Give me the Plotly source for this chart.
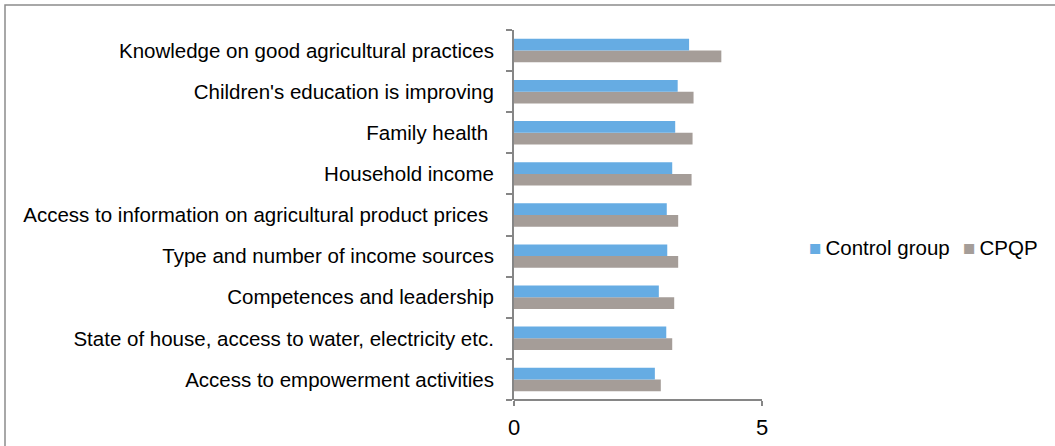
import plotly.graph_objects as go

categories = [
    "Knowledge on good agricultural practices",
    "Children's education is improving",
    "Family health\u00a0",
    "Household income",
    "Access to information on agricultural product prices\u00a0",
    "Type and number of income sources",
    "Competences and leadership",
    "State of house, access to water, electricity etc.",
    "Access to empowerment activities",
]
control_group = [3.53, 3.30, 3.25, 3.19, 3.08, 3.09, 2.92, 3.07, 2.84]
cpqp = [4.18, 3.62, 3.60, 3.58, 3.31, 3.31, 3.23, 3.19, 2.96]
x_ticks = [0, 5]

series_names = ["Control group", "CPQP"]
series_colors = ["#66ace3", "#a59d98"]

FONT = "Liberation Sans, Arial, sans-serif"
AXIS = "#868686"

fig = go.Figure()
fig.add_trace(go.Bar(
    name=series_names[1], y=categories, x=cpqp, orientation="h",
    marker=dict(color=series_colors[1], line=dict(width=0)),
))
fig.add_trace(go.Bar(
    name=series_names[0], y=categories, x=control_group, orientation="h",
    marker=dict(color=series_colors[0], line=dict(width=0)),
))

W, H = 1055, 446
L, R, T, B = 514, 762, 30, 400


def px_x(p):
    return (p - L) / (R - L)


def px_y(p):
    return (B - p) / (B - T)


# legend entries: coloured square followed by the series name
legend_x = [807, 961]
legend_notes = [
    dict(
        xref="paper", yref="paper", x=px_x(lx), y=px_y(247),
        xanchor="left", yanchor="middle", showarrow=False,
        text=f'<span style="color:{c}">■</span>\u2009{n}',
        font=dict(family=FONT, size=20.5, color="black"),
    )
    for lx, n, c in zip(legend_x, series_names, series_colors)
]

fig.update_layout(
    width=W, height=H,
    margin=dict(l=L, r=W - R, t=T, b=H - B, autoexpand=False),
    paper_bgcolor="white", plot_bgcolor="white",
    barmode="group", bargap=0.43, bargroupgap=0,
    font=dict(family=FONT, size=20.5, color="black"),
    showlegend=False,
    annotations=legend_notes,
    xaxis=dict(
        range=[0, 5], tickvals=x_ticks, ticktext=[str(v) for v in x_ticks],
        showgrid=True, gridcolor=AXIS, gridwidth=2,
        showline=False, zeroline=False,
        ticks="outside", ticklen=5, tickcolor=AXIS, tickwidth=2,
        tickfont=dict(size=22), ticklabelstandoff=3, fixedrange=True,
    ),
    yaxis=dict(
        categoryorder="array", categoryarray=categories[::-1],
        showline=True, linecolor=AXIS, linewidth=2,
        ticks="outside", tickson="boundaries", ticklen=6,
        tickcolor=AXIS, tickwidth=2, showgrid=False,
        ticklabelstandoff=14, fixedrange=True,
    ),
    shapes=[
        # bottom axis line
        dict(type="line", xref="paper", yref="paper", x0=0, x1=1, y0=0, y1=0,
             line=dict(color=AXIS, width=2)),
        # outer chart frame (right and bottom edges fall outside the page)
        dict(type="rect", xref="paper", yref="paper",
             x0=px_x(5), x1=px_x(W + 60), y0=px_y(H + 60), y1=px_y(5),
             line=dict(color="#8c8c8c", width=1.5), fillcolor="rgba(0,0,0,0)",
             layer="below"),
    ],
)

fig.write_html("out.html")
